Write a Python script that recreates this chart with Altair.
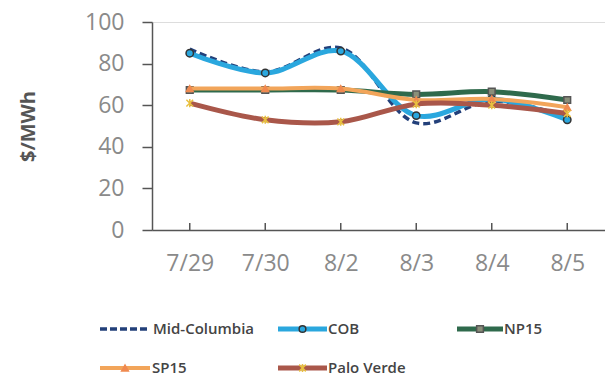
import altair as alt
import pandas as pd

dates = ["7/29", "7/30", "8/2", "8/3", "8/4", "8/5"]
mid_columbia = [87, 76, 87.5, 51.5, 62, 54.5]
cob = [85, 75.5, 86, 55, 63, 53]
np15 = [67.3, 67.3, 67.3, 65.2, 66.5, 62.5]
sp15 = [68, 68, 68, 62.5, 63, 59]
palo_verde = [61, 53, 52, 60.5, 60, 56]

series_names = ["Mid-Columbia", "COB", "NP15", "SP15", "Palo Verde"]
series_values = [mid_columbia, cob, np15, sp15, palo_verde]
colors = ["#23407a", "#2aa7de", "#2f6a4c", "#f2a55a", "#a9574a"]

rows = []
for name, vals in zip(series_names, series_values):
    for d, v in zip(dates, vals):
        rows.append({"date": d, "series": name, "value": v})
df = pd.DataFrame(rows)

FONT = "Open Sans"
W, H = 453, 208

xaxis = alt.Axis(title=None, ticks=False, labelAngle=0, labelFontSize=23,
                 labelColor="#8a8a8a", labelPadding=22, labelFont=FONT,
                 domainColor="#555555", domainWidth=1.5)
xenc = alt.X("date:O", sort=dates, scale=alt.Scale(type="point", padding=0.5), axis=xaxis)
yenc = alt.Y("value:Q", scale=alt.Scale(domain=[0, 100]),
             axis=alt.Axis(title="$/MWh", values=[0, 20, 40, 60, 80, 100], grid=False,
                           tickSize=10, tickColor="#555555", tickWidth=1.5,
                           labelFontSize=23, labelColor="#8a8a8a", labelPadding=18,
                           labelFont=FONT, domainColor="#555555", domainWidth=1.5,
                           titleFont=FONT, titleFontSize=20, titleFontWeight="bold",
                           titleColor="#555555", titleX=-124, titleY=104,
                           titleBaseline="middle", titleAngle=-90))

asterisk = "M-1,-1L1,1M-1,1L1,-1M0,-1.2L0,1.2"

styles = {
    "Mid-Columbia": dict(width=3.5, dash=[7, 4], shape=None),
    "COB": dict(width=5, dash=None, shape="circle"),
    "NP15": dict(width=5, dash=None, shape="square"),
    "SP15": dict(width=4, dash=None, shape="triangle-up"),
    "Palo Verde": dict(width=5, dash=None, shape=asterisk),
}
marker_fill = {"COB": "#2aa7de", "NP15": "#8a8f7a", "SP15": "#f08a50", "Palo Verde": "#a9574a"}
marker_stroke = {"COB": "#333333", "NP15": "#555555", "SP15": "#f08a50", "Palo Verde": "#e8c040"}

layers = []
for name, color in zip(series_names, colors):
    st = styles[name]
    sub = alt.Chart(df).transform_filter(alt.datum.series == name)
    lk = dict(color=color, strokeWidth=st["width"], interpolate="catmull-rom")
    if st["dash"]:
        lk["strokeDash"] = st["dash"]
    layers.append(sub.mark_line(**lk).encode(x=xenc, y=yenc))
    if st["shape"]:
        pk = dict(shape=st["shape"], size=55 if name == "COB" else 45, opacity=1,
                  stroke=marker_stroke[name], strokeWidth=1.5)
        if name == "Palo Verde":
            pk["filled"] = False
        else:
            pk["filled"] = True
            pk["fill"] = marker_fill[name]
        layers.append(sub.mark_point(**pk).encode(x=xenc, y=yenc))

# x-axis inward ticks
ticks = alt.Chart(pd.DataFrame({"date": dates})).mark_rule(color="#555555", strokeWidth=1.5).encode(
    x=xenc, y=alt.value(H - 7), y2=alt.value(H))
layers.append(ticks)

# manual legend (layout constants relative to plot origin)
leg_pos = {
    "Mid-Columbia": (-52, -2, 1, 307),
    "COB": (126, 175, 176, 307),
    "NP15": (305, 351, 352, 307),
    "SP15": (-52, -2, 0, 346),
    "Palo Verde": (126, 175, 176, 346),
}
one = alt.Chart(pd.DataFrame({"a": [0]}))
for name, color in zip(series_names, colors):
    x1, x2, tx, ty = leg_pos[name]
    st = styles[name]
    rk = dict(color=color, strokeWidth=st["width"])
    if st["dash"]:
        rk["strokeDash"] = [7, 3]
    layers.append(one.mark_rule(**rk).encode(x=alt.value(x1), x2=alt.value(x2), y=alt.value(ty)))
    if st["shape"]:
        pk = dict(shape=st["shape"], size=45, opacity=1, stroke=marker_stroke[name], strokeWidth=1.5)
        if name == "Palo Verde":
            pk["filled"] = False
        else:
            pk["filled"] = True
            pk["fill"] = marker_fill[name]
        layers.append(one.mark_point(**pk).encode(x=alt.value((x1 + x2) / 2), y=alt.value(ty)))
    layers.append(one.mark_text(text=name, align="left", baseline="middle", font=FONT,
                                fontSize=15, fontWeight=600, color="#444444").encode(
        x=alt.value(tx), y=alt.value(ty)))

chart = alt.layer(*layers).properties(
    width=W, height=H,
    autosize=alt.AutoSizeParams(type="none"),
    padding={"left": 152, "top": 22, "right": 0, "bottom": 147},
).configure_view(stroke=None).configure(background="white")

chart.save("out.html", embed_options={"renderer": "svg", "actions": False})
